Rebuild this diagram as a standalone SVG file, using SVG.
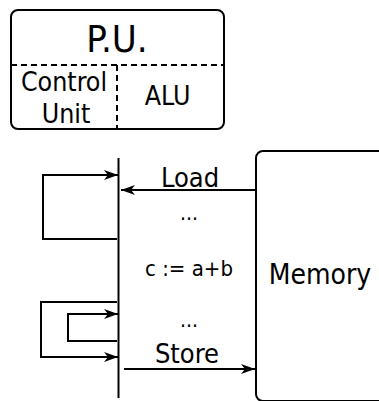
<svg xmlns="http://www.w3.org/2000/svg" width="379" height="401" viewBox="0 0 379 401">
<style>
.ln{fill:none;stroke:#000;stroke-width:2}
.ds{fill:none;stroke:#000;stroke-width:2;stroke-dasharray:6 4}
text{font-family:"DejaVu Sans Condensed","DejaVu Sans",sans-serif;font-stretch:condensed;fill:#000;text-anchor:middle}
</style>
<defs>
<marker id="ah" viewBox="0 0 14 10" refX="14" refY="5" markerWidth="14" markerHeight="10" markerUnits="userSpaceOnUse" orient="auto">
<path d="M0,0 L14,5 L0,10 L4,5 Z" fill="#000"/>
</marker>
</defs>
<g id="pu">
<rect class="ln" x="11" y="10" width="213" height="119" rx="7"/>
<line class="ds" x1="11" y1="65" x2="224" y2="65"/>
<line class="ds" x1="117" y1="65" x2="117" y2="129"/>
<text x="117" y="52" font-size="38">P.U.</text>
<text x="64" y="91" font-size="26.5">Control</text>
<text x="66" y="123" font-size="26.5">Unit</text>
<text x="167.5" y="105" font-size="26.5">ALU</text>
</g>
<g id="memory">
<rect class="ln" x="256" y="151" width="140" height="250" rx="7"/>
<text x="320" y="284" font-size="28">Memory</text>
</g>
<g id="timeline">
<line class="ln" x1="118.5" y1="158" x2="118.5" y2="398"/>
<text x="189" y="220" font-size="21">...</text>
<text x="189" y="276" font-size="22">c := a+b</text>
<text x="189" y="327" font-size="21">...</text>
</g>
<g id="connectors">
<line class="ln" x1="256" y1="190" x2="121" y2="190" marker-end="url(#ah)"/>
<text x="190" y="186.5" font-size="27">Load</text>
<line class="ln" x1="124" y1="369" x2="255" y2="369" marker-end="url(#ah)"/>
<text x="187" y="363" font-size="27">Store</text>
<polyline class="ln" points="117,239 43,239 43,175 118,175" marker-end="url(#ah)"/>
<polyline class="ln" points="117,302 41,302 41,357 118,357" marker-end="url(#ah)"/>
<polyline class="ln" points="117,341 68,341 68,314 118,314" marker-end="url(#ah)"/>
</g>
</svg>
